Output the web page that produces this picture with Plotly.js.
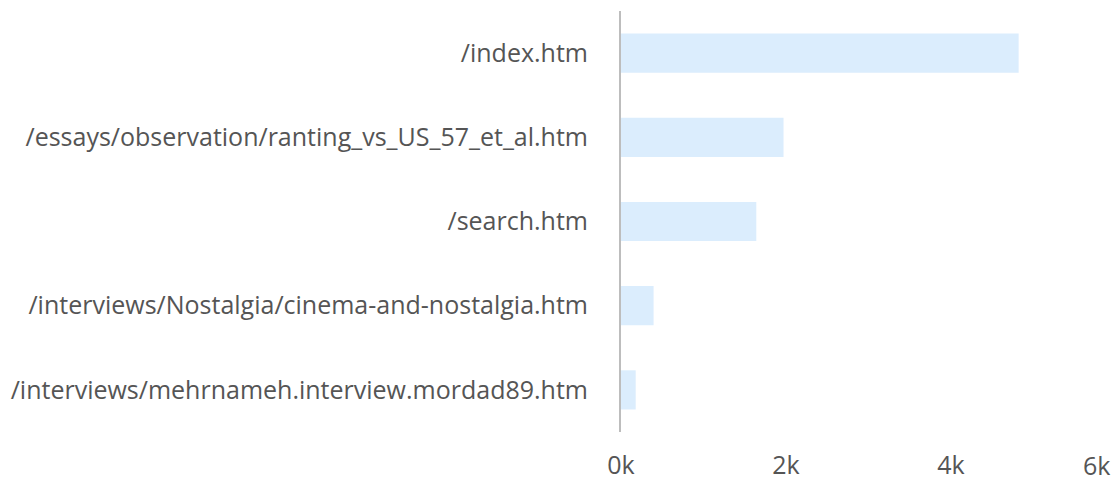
<!DOCTYPE html>
<html>
<head>
<meta charset="utf-8">
<script src="https://cdn.plot.ly/plotly-3.0.1.min.js"></script>
<style>html,body{margin:0;padding:0;background:#fff}#chart{width:1119px;height:479px}</style>
</head>
<body>
<div id="chart"></div>
<script>
const pages = [
  "/index.htm",
  "/essays/observation/ranting_vs_US_57_et_al.htm",
  "/search.htm",
  "/interviews/Nostalgia/cinema-and-nostalgia.htm",
  "/interviews/mehrnameh.interview.mordad89.htm"
];
const hits = [4820, 1970, 1640, 395, 178];
const xTickVals = [0, 2000, 4000];
const xTickText = ["0k", "2k", "4k"];
const lastTickVal = 6000;
const lastTickText = "6k";

const font = {family: "Open Sans, sans-serif", size: 25, color: "#555"};

Plotly.newPlot("chart", [{
  type: "bar",
  orientation: "h",
  y: pages,
  x: hits,
  marker: {color: "#dbedfd"},
  hoverinfo: "x+y"
}], {
  width: 1119, height: 479,
  margin: {l: 621, r: 3, t: 11, b: 47, pad: 0},
  paper_bgcolor: "#fff", plot_bgcolor: "#fff",
  font: font,
  bargap: 0.535,
  showlegend: false,
  xaxis: {
    range: [0, 6000], tickvals: xTickVals, ticktext: xTickText,
    showgrid: false, zeroline: false, showline: false, ticks: "",
    ticklabelstandoff: 16, tickfont: font, fixedrange: true
  },
  yaxis: {
    type: "category", autorange: "reversed",
    showgrid: false, zeroline: false, showline: true, linecolor: "#bdbdbd", linewidth: 2,
    ticks: "", ticklabelstandoff: 26, tickfont: font, fixedrange: true
  },
  annotations: [{
    x: lastTickVal, xref: "x", y: 0, yref: "paper", yanchor: "top", yshift: -14,
    xanchor: "right", xshift: -4, text: lastTickText, showarrow: false, font: font
  }]
}, {displayModeBar: false, staticPlot: true});
</script>
</body>
</html>
